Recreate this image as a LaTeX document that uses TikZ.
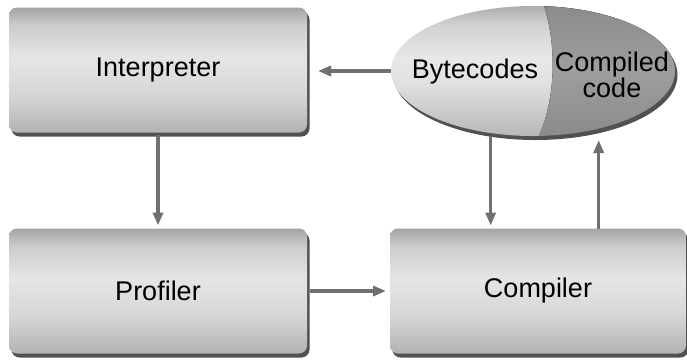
\documentclass[tikz,border=0pt]{standalone}
\usepackage{fontspec}
\setmainfont{Liberation Sans}
\usetikzlibrary{shapes.geometric,shadows,arrows.meta,calc}
\definecolor{arrgray}{HTML}{707070}
\pgfdeclareverticalshading{boxshade}{100bp}{color(0bp)=(black!30); color(25bp)=(black!30); color(40bp)=(black!16); color(55bp)=(black!10); color(68bp)=(black!20); color(75bp)=(black!36); color(100bp)=(black!36)}
\pgfdeclareverticalshading{ellshade}{100bp}{color(0bp)=(black!28); color(25bp)=(black!28); color(45bp)=(black!12); color(55bp)=(black!9); color(68bp)=(black!18); color(75bp)=(black!32); color(100bp)=(black!32)}
\pgfdeclareverticalshading{darkshade}{100bp}{color(0bp)=(black!46); color(25bp)=(black!46); color(50bp)=(black!38); color(75bp)=(black!46); color(100bp)=(black!46)}
\tikzset{
  shad/.style={drop shadow={shadow xshift=2.5pt, shadow yshift=-4pt, fill=black!80, opacity=0.85}},
  box/.style={rectangle, rounded corners=8pt, minimum width=298pt, minimum height=125pt,
    shading=boxshade, outer sep=0pt, shad,
    font=\fontsize{27}{30}\selectfont},
  arr/.style={draw=arrgray, line width=3.5pt, -{Triangle[length=13pt,width=10pt]}},
  lbl/.style={font=\fontsize{27}{22}\selectfont, align=center, inner sep=0pt}
}
\begin{document}
\begin{tikzpicture}[x=1pt,y=-1pt]
\useasboundingbox (0,0) rectangle (687,360);
\node[box] (interp) at (158,70) {Interpreter};
\node[box] (prof) at (158,291) {Profiler};
\node[box, minimum width=296pt] (comp) at (538,291) {Compiler};
\node[ellipse, minimum width=284pt, minimum height=130pt, outer sep=0pt, shading=ellshade, shad] (bc) at (533,71) {};
\begin{scope}
  \clip (533,71) ellipse [x radius=142pt, y radius=65pt];
  \fill[shading=darkshade] (542,0) .. controls (557,40) and (557,100) .. (537,140) -- (700,140) -- (700,0) -- cycle;
\end{scope}
\node[lbl] (bctext) at ($(bc.center)+(-58,1)$) {Bytecodes};
\node[lbl] (cctext) at ($(bc.center)+(79,4)$) {Compiled\\code};
% connectors
\draw[arr, shorten >=11pt] (bc.west) -- (bc.west -| interp.east);
\draw[arr, shorten <=2pt, shorten >=3pt] (interp.south) -- (prof.north);
\draw[arr, shorten <=3pt, shorten >=4pt] (prof.east) -- (comp.west);
\coordinate (cin) at ($(comp.north west)!0.34!(comp.north east)$);
\coordinate (cout) at ($(comp.north west)!0.705!(comp.north east)$);
\draw[arr, shorten >=3pt] (cin |- bc.south) -- (cin);
\draw[arr, shorten >=4pt] (cout) -- (cout |- bc.south);
\end{tikzpicture}
\end{document}
